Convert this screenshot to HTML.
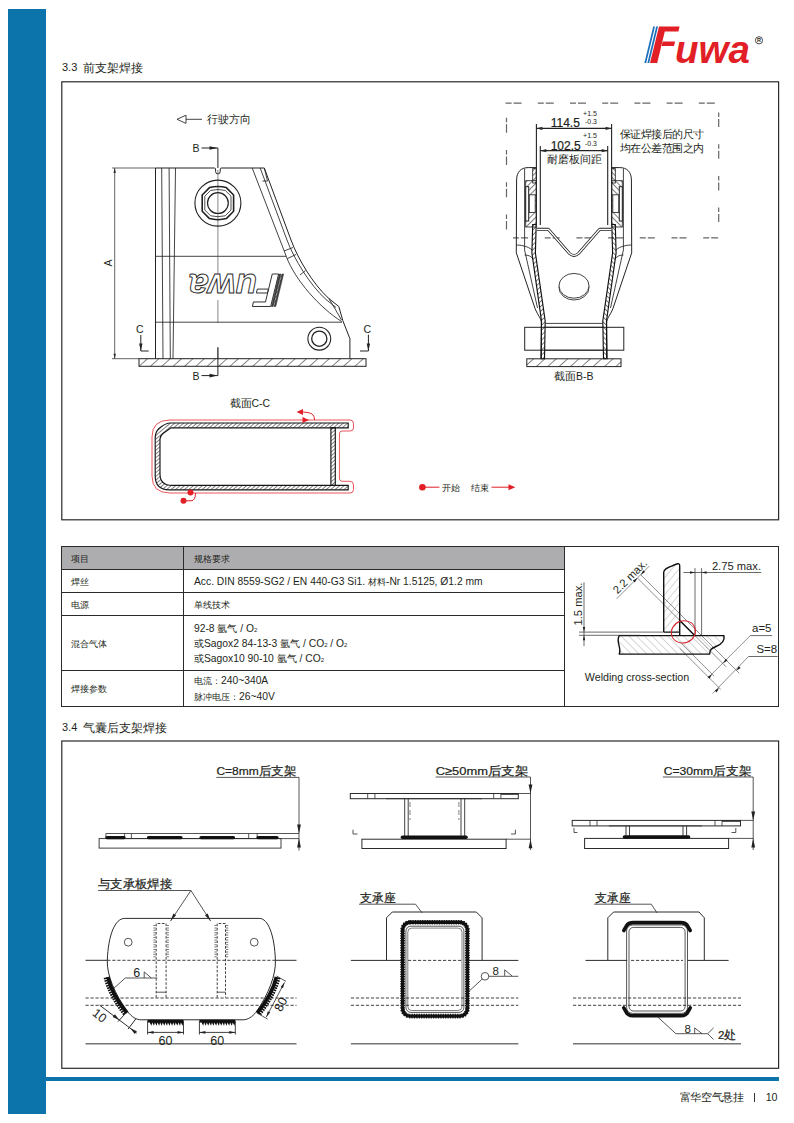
<!DOCTYPE html>
<html lang="zh">
<head>
<meta charset="utf-8">
<title>3.3</title>
<style>
html,body{margin:0;padding:0;}
body{width:794px;height:1123px;position:relative;overflow:hidden;background:#fff;font-family:"Liberation Sans",sans-serif;color:#231f20;}
.abs{position:absolute;}
#bar{left:8px;top:9px;width:38px;height:1105px;background:#0d73ab;}
#rule{left:46px;top:1077px;width:733px;height:4px;background:#0d73ab;}
.h{font-size:12px;left:62px;white-space:nowrap;color:#231f20;}
.hn{font-size:11px;}
.box{border:1px solid #333;box-sizing:border-box;}
#tbl{left:61px;top:546px;width:718px;height:161px;border-collapse:collapse;}
table{border-collapse:collapse;font-size:9.3px;}
.la{font-size:10.3px;}
td{border:1px solid #2a2a2a;padding:0 0 0 9.4px;vertical-align:middle;line-height:15px;}
td.s{padding-top:2px;}
td.c2{padding-left:9.6px;}
tr.hd td{background:#adadaf;}
.ft{top:1091px;font-size:10.7px;white-space:nowrap;line-height:13px;letter-spacing:-0.3px;}
svg{position:absolute;left:0;top:0;}
.sb{font-size:6px;line-height:0;}
svg .md text{stroke:#231f20;stroke-width:0.22px;}
svg text{font-family:"Liberation Sans",sans-serif;fill:#231f20;}
</style>
</head>
<body>
<div id="bar" class="abs"></div>
<div id="rule" class="abs"></div>
<div class="abs h" style="top:60.2px;"><span class="hn">3.3</span><span class="abs" style="left:21.2px;top:0">前支架焊接</span></div>

<table id="tbl" class="abs">
<tr class="hd" style="height:23px;"><td class="s" style="width:112px;">项目</td><td class="s c2" style="width:370.4px;">规格要求</td><td rowspan="5" style="background:#fff;padding:0;"></td></tr>
<tr style="height:23px;"><td class="s">焊丝</td><td class="s c2"><span class="la">Acc. DIN 8559-SG2 / EN 440-G3 Si1. </span>材料<span class="la">-Nr 1.5125, Ø1.2 mm</span></td></tr>
<tr style="height:23px;"><td class="s">电源</td><td class="s c2">单线技术</td></tr>
<tr style="height:54px;"><td class="s">混合气体</td><td class="c2" style="font-size:10px;"><span class="la">92-8 </span>氩气<span class="la"> / O</span><span class="sb">2</span><br>或<span class="la">Sagox2 84-13-3 </span>氩气<span class="la"> / CO</span><span class="sb">2</span><span class="la"> / O</span><span class="sb">2</span><br>或<span class="la">Sagox10 90-10 </span>氩气<span class="la"> / CO</span><span class="sb">2</span></td></tr>
<tr style="height:36px;"><td class="s">焊接参数</td><td class="c2" style="line-height:16px;padding-top:1px;">电流：<span class="la">240~340A</span><br>脉冲电压：<span class="la">26~40V</span></td></tr>
</table>
<div class="abs h" style="top:719.5px;"><span class="hn">3.4</span><span class="abs" style="left:21.2px;top:0">气囊后支架焊接</span></div>

<div class="abs ft" style="left:679.6px;">富华空气悬挂</div><div class="abs" style="left:754px;top:1092.5px;width:1px;height:9.5px;background:#333;"></div><div class="abs ft" style="left:765.8px;">10</div>
<svg id="art" width="794" height="1123" viewBox="0 0 794 1123">
<rect x="61.8" y="81.8" width="716.8" height="438" fill="none" stroke="#2a2a2a" stroke-width="1.2"/>
<rect x="61.8" y="741" width="716.8" height="327.3" fill="none" stroke="#2a2a2a" stroke-width="1.2"/>
<defs>
<pattern id="hat" width="7.6" height="7.6" patternUnits="userSpaceOnUse" patternTransform="rotate(48)"><line x1="0" y1="0" x2="0" y2="7.6" stroke="#222" stroke-width="1.1"/></pattern>
<pattern id="hat2" width="2.6" height="2.6" patternUnits="userSpaceOnUse" patternTransform="rotate(40)"><line x1="0" y1="0" x2="0" y2="2.6" stroke="#222" stroke-width="0.9"/></pattern>
<pattern id="hatg2" width="5.5" height="5.5" patternUnits="userSpaceOnUse" patternTransform="rotate(40)"><line x1="0" y1="0" x2="0" y2="5.5" stroke="#8a8a8a" stroke-width="0.7"/></pattern>
<pattern id="hatg" width="5.5" height="5.5" patternUnits="userSpaceOnUse" patternTransform="rotate(-45)"><line x1="0" y1="0" x2="0" y2="5.5" stroke="#8a8a8a" stroke-width="0.7"/></pattern>
<g id="lgF"><polygon points="5.6,0 12.8,0 20.4,-31.5 34,-31.5 35.2,-36.6 14.6,-36.6"/><polygon points="17.2,-17 29.6,-17 30.7,-21.4 18.3,-21.4"/></g>
<g id="lgS"><polygon points="0,0 1.8,0 10.6,-36.6 8.8,-36.6"/><polygon points="3,0 4.8,0 13.6,-36.6 11.8,-36.6"/></g>
</defs>
<g transform="translate(644.4,63)">
<use href="#lgS" fill="#1d6fb8"/><use href="#lgF" fill="#e21f26"/>
<text x="30.5" y="0" font-size="39" font-weight="bold" font-style="italic" textLength="75" lengthAdjust="spacingAndGlyphs" style="fill:#e21f26">uwa</text>
<circle cx="114.6" cy="-22.7" r="3.6" fill="none" stroke="#231f20" stroke-width="0.8"/>
<text x="112.6" y="-20.6" font-size="5.5" font-weight="bold">R</text>
</g>

<g id="f1" fill="none" stroke="#222" stroke-width="0.85">
<!-- direction arrow -->
<polygon points="177,119.3 186,115.2 186,123.4" fill="#fff"/>
<line x1="186" y1="119.3" x2="202" y2="119.3"/>
<!-- outline -->
<path d="M155.5,358.7 L155.5,168 L214.9,168 Q215.6,168.3 215.6,170 L215.6,171.6 A2.3,2.3 0 0 0 220.2,171.6 L220.2,170 Q220.2,168.3 220.9,168 L264.3,168 L291,240 C298,259 313,284 328.7,298.4 L338.8,306.5 L342.8,320.6 L349.9,338.7 L349.9,358.7" stroke-width="1"/>
<path d="M260.2,168 L287,240 C294,259 310,285 326,299.5 L336,307.5"/>
<path d="M252.2,168 L286.4,256.7 C295,280 320,308 341.8,321.6"/>
<path d="M264.3,168 L267.5,181 M262.5,181 L267.5,181 M284,251 L293,247.5 M287.5,258.5 L296,254.5 M300,275 L305.5,270.5 M328.7,298.4 L332.5,304.5 L341.5,320"/>
<line x1="161.7" y1="168" x2="163" y2="358.7"/><line x1="169.1" y1="168" x2="170.3" y2="358.7"/><line x1="175.5" y1="168" x2="173" y2="358.7"/>
<line x1="155.5" y1="256.3" x2="286.4" y2="256.3"/>
<line x1="155.5" y1="322.2" x2="342" y2="322.2"/>
<!-- centerline -->
<path d="M217.9,170 V292 M217.9,300 V323 M217.9,347 V359" stroke="#555" stroke-width="0.7"/>
<!-- nut -->
<circle cx="217.9" cy="203.1" r="23" stroke-width="1.1"/>
<path d="M209.5,187.6 Q217.9,185.4 226.3,187.6 L233.6,195 L233.6,211.2 L226.3,218.6 Q217.9,220.8 209.5,218.6 L202.2,211.2 L202.2,195 Z" stroke-width="1.6" stroke-linejoin="round"/>
<path d="M210.6,190.4 Q217.9,188.6 225.2,190.4 L231,196.2 L231,210 L225.2,215.8 Q217.9,217.6 210.6,215.8 L204.8,210 L204.8,196.2 Z" stroke-width="0.8" stroke-linejoin="round"/>
<circle cx="217.9" cy="203.1" r="10.4" stroke-width="1.2"/>
<!-- small bush -->
<circle cx="319.3" cy="338.7" r="11.4" stroke-width="1.1"/><circle cx="319.3" cy="338.7" r="7.6" stroke-width="1.3"/>
<!-- ground -->
<rect x="139" y="358.7" width="227" height="7.6" fill="url(#hat)" stroke-width="1"/>
<!-- dim A -->
<line x1="114.7" y1="168" x2="114.7" y2="358.7" stroke-width="0.7"/>
<line x1="112" y1="168" x2="155.5" y2="168" stroke-width="0.7"/><line x1="112" y1="358.7" x2="139" y2="358.7" stroke-width="0.7"/>
<path d="M114.7,168 l-1.2,5 h2.4z M114.7,358.7 l-1.2,-5 h2.4z" fill="#2b2b2b" stroke="none"/>
<!-- B markers -->
<path d="M201.5,148 H217.9 V168 M201.5,375.6 H217.9 V347.5" stroke-width="1"/>
<path d="M217.5,148 l-8,-1.8 v3.6z M217.5,375.6 l-8,-1.8 v3.6z" fill="#222" stroke="none"/>
<!-- C markers -->
<path d="M140.8,335 V351 H148.7 M368.4,334.7 V351 H360" stroke-width="1"/>
<path d="M140.8,351 l-1.7,-7.5 h3.4z M368.4,351 l-1.7,-7.5 h3.4z" fill="#222" stroke="none"/>
<!-- rotated logo outline -->
<g transform="translate(283.6,274) scale(-0.8875)" stroke="#2b2b2b" stroke-width="1.1" fill="#fff">
<use href="#lgS" fill="#444" stroke-width="0.6"/><polygon points="1,0 6,0 14.5,-36.6 9.5,-36.6" fill="url(#hat2)" stroke="none"/><use href="#lgF"/>
<text x="30" y="0" font-size="40" font-weight="bold" font-style="italic" textLength="77" lengthAdjust="spacingAndGlyphs" style="fill:#fff">uwa</text>
</g>
</g>
<g font-size="10.5">
<text x="206.5" y="123">行驶方向</text>
<text x="192.4" y="152">B</text><text x="192.4" y="379.6">B</text>
<text x="136" y="333">C</text><text x="363.6" y="333">C</text>
<text transform="translate(112,266.5) rotate(-90)">A</text>
</g>

<defs>
<pattern id="hat3" width="2.85" height="2.85" patternUnits="userSpaceOnUse" patternTransform="rotate(50)"><line x1="0" y1="0" x2="0" y2="2.85" stroke="#111" stroke-width="1.05"/></pattern>
<pattern id="hat6" width="3.5" height="3.5" patternUnits="userSpaceOnUse" patternTransform="rotate(45)"><line x1="0" y1="0" x2="0" y2="3.5" stroke="#111" stroke-width="1.1"/></pattern>
<pattern id="hat4" width="4" height="4" patternUnits="userSpaceOnUse" patternTransform="rotate(45)"><line x1="0" y1="0" x2="0" y2="4" stroke="#111" stroke-width="1.1"/></pattern>
<g id="bbh"><path d="M536.7,167.6 L528.2,167.6 C521,167.6 516.6,172 516.6,180 L516.3,252.8 L535,308.4 C538,316 541.4,318 541.4,323.4 L541.4,358.7" stroke-width="1"/>
<path d="M524.6,168.6 V250 L537.5,308"/>
<path d="M516.5,245 C520,245 528,246 532,250 M524.6,255 C528,255 531,256 533,259"/>
<polygon points="532.7,224.5 531.9,253 541.5,321 540.9,358.7 544.5,358.7 545.2,321 535.4,253 536.2,224.5" fill="url(#hat6)" stroke-width="1.15" stroke="#111"/>
<rect x="532.7" y="168.6" width="3.5" height="14.4" fill="url(#hat6)"/>
<rect x="525.7" y="180.7" width="10.5" height="46.3" fill="url(#hat4)"/>
<rect x="529.2" y="194.8" width="6" height="17.6" fill="#fff"/>
<rect x="525.7" y="186.7" width="3" height="34.3" fill="#fff" stroke-width="1"/>
<line x1="536.4" y1="124" x2="536.4" y2="225" stroke-width="1.1"/><line x1="540.3" y1="146" x2="540.3" y2="225" stroke-width="1.1"/>
</g>
</defs>
<g id="f2" fill="none" stroke="#222" stroke-width="0.85">
<g stroke="#666" stroke-width="1.2"><path d="M505.6,103.1 H718" stroke-dasharray="6 2 8 16.2"/><path d="M718.7,112.5 V225" stroke-dasharray="4.5 2 8 17.2"/><path d="M506.5,117.7 V231" stroke-dasharray="4.5 2 8.5 17.3"/><path d="M513,237.9 H719.2" stroke-dasharray="6 2 7 16.7"/></g>
<rect x="524.7" y="327.3" width="99.1" height="22.9" stroke-width="1"/>
<use href="#bbh"/><use href="#bbh" transform="translate(1148,0) scale(-1,1)"/>
<path d="M545.5,323.4 H602.5 M545.5,327.3 H602.5 M545,350.2 H603"/>
<path d="M536.7,229.3 H548.3 L569.5,253.5 Q574,257.3 578.5,253.5 L599.7,229.3 H611.3" stroke-width="2.9" stroke-linejoin="round"/>
<path d="M536.7,229.3 H548.3 L569.5,253.5 Q574,257.3 578.5,253.5 L599.7,229.3 H611.3" stroke="#fff" stroke-width="1.3" stroke-linejoin="round"/>
<ellipse cx="574" cy="287.6" rx="15" ry="12.4"/><ellipse cx="574" cy="285.8" rx="15" ry="12.4" fill="#fff"/>
<rect x="526.8" y="358.8" width="94.2" height="7.8" fill="url(#hat)" stroke-width="1"/>
<path d="M536.4,128.4 H611.6 M540.3,150.7 H607.7" stroke-width="1.2"/>
<path d="M536.4,128.4 l6,-1.6 v3.2z M611.6,128.4 l-6,-1.6 v3.2z M540.3,150.7 l6,-1.6 v3.2z M607.7,150.7 l-6,-1.6 v3.2z" fill="#2b2b2b" stroke="none"/>
</g>
<g font-size="12" class="md"><text x="550.7" y="127.4">114.5</text><text x="550.7" y="149.6">102.5</text></g>
<g font-size="8"><text x="583" y="115.8" textLength="14" lengthAdjust="spacingAndGlyphs">+1.5</text><text x="585" y="124.4" textLength="12" lengthAdjust="spacingAndGlyphs">-0.3</text><text x="583" y="138" textLength="14" lengthAdjust="spacingAndGlyphs">+1.5</text><text x="585" y="146.3" textLength="12" lengthAdjust="spacingAndGlyphs">-0.3</text></g>
<g font-size="10.5"><text x="547" y="162.6" font-size="10.8">耐磨板间距</text><text x="620" y="138" textLength="84" lengthAdjust="spacing">保证焊接后的尺寸</text><text x="620" y="151.6" textLength="84" lengthAdjust="spacing">均在公差范围之内</text><text x="554" y="380">截面B-B</text><text x="229.5" y="407">截面C-C</text></g>

<g id="f3" fill="none" stroke="#151515" stroke-width="1.15">
<path d="M348.2,423 H171 Q165,423 159,428.5 Q155.2,432 155.2,438 V476 Q155.2,489.8 169.4,489.8 H348.2 V485.4 H172 Q160,485.4 160,474 V439 Q160,436 163,433.5 L171,427.8 H348.2 Z" fill="url(#hat3)"/>
<rect x="330.9" y="427.8" width="4.4" height="57.6" fill="url(#hat3)"/>
<path d="M190.5,493 H170 Q152,493 152,476 V437 Q152,420 170,420 H350 Q353.5,420 353.5,423.5 V428 Q353.5,431 350,431 H342 Q339.4,431 339.4,434 V478 Q339.4,481.3 342,481.3 H350 Q353.5,481.3 353.5,485 V489.5 Q353.5,493 350,493 H190.5" stroke="#e21f26" stroke-width="0.75"/>
<path d="M314.5,420 C314.5,414 311,412 300,412 M183.5,500.8 H191 Q195.5,500.8 195.5,493" stroke="#e21f26" stroke-width="1"/>
<path d="M296.5,412 l6.5,-3 v6z M309,420 l-6.5,-3 v6z M515.3,487.2 l-6.8,-3 v6z" fill="#e21f26" stroke="none"/>
<circle cx="190.5" cy="492.5" r="3" fill="#e21f26" stroke="none"/><circle cx="183.5" cy="500.8" r="3" fill="#e21f26" stroke="none"/>
<circle cx="422.4" cy="487.2" r="3.3" fill="#e21f26" stroke="none"/>
<path d="M425,487.2 H439.4 M491.5,487.2 H509.5" stroke="#e21f26" stroke-width="1"/>
</g>
<g font-size="9"><text x="442.3" y="490.6">开始</text><text x="471.1" y="490.6">结束</text></g>

<g id="wd" fill="none" stroke="#2b2b2b" stroke-width="0.7">
<path d="M663.7,632.1 V572.5 C663.7,569 668,567.5 673,565.5 C677,563.5 679.7,562.5 679.7,566 V632.1 Z" fill="url(#hatg2)" stroke="none"/>
<path d="M619.2,635.6 H724 C725,641 722,644 716,646.5 C711,648.5 709.7,650 709.7,654.1 H619.2 C622,648 615.5,642 619.2,635.6Z" fill="url(#hatg)" stroke="none"/>
<path d="M640.7,574.7 L739.3,673.3 M637.4,578.0 L726.2,666.8 M679.7,641.8 L714.1,676.2 M679.7,648.4 L720.7,689.3 M616.6,598.8 L649.4,566.0 M750.3,635.6 L707.5,678.4 M748.5,656.5 L712.6,693.5 " stroke="#444" stroke-width="0.6"/>
<path d="M723.1,663.3 L727.5,660.6 L725.7,658.8Z M712.1,674.2 L707.7,676.8 L709.5,678.7Z M736.2,670.7 L740.7,668.1 L738.8,666.3Z M719.2,687.9 L714.8,690.5 L716.6,692.4Z M637.4,578.0 L632.9,580.6 L634.8,582.5Z M640.7,574.7 L645.1,572.1 L643.3,570.3Z " fill="#222" stroke="none"/>
<path d="M663.7,632.1 V572.5 C663.7,569 668,567.5 673,565.5 C677,563.5 679.7,562.5 679.7,566 V635.6 M663.7,632.1 H679.7 M679.7,620.6 L694.7,635.6" stroke="#111" stroke-width="1.4" stroke-linejoin="round"/>
<path d="M619.2,635.6 H724 C725,641 722,644 716,646.5 C711,648.5 709.7,650 709.7,654.1 H619.2 C622,648 615.5,642 619.2,635.6Z" stroke="#111" stroke-width="1.4" stroke-linejoin="round"/>
<path d="M683.4,572.5 H761.2 M695,568.1 V635 M701.6,568.1 V635 M584,582.4 V646.1 M579,632.1 H663.7 M579,635.3 H640"/>
<path d="M695,572.5 l-5,-1.2 v2.4z M701.6,572.5 l5,-1.2 v2.4z M584,632.1 l-1.2,-5 h2.4z M584,635.3 l-1.2,5 h2.4z" fill="#222" stroke="none"/>
<path d="M750.3,635.6 H772.2 M748.5,656.5 H777.7"/>
<ellipse cx="683.4" cy="631.9" rx="12.2" ry="11" stroke="#d8232a" stroke-width="1" transform="rotate(-20 683.4 631.9)"/>
</g>
<g font-size="11.2" style="fill:#333"><text x="711.9" y="569.9">2.75 max.</text><text x="752" y="632.3" font-size="11.5">a=5</text><text x="756.4" y="653.2" font-size="11.5">S=8</text>
<text transform="translate(582,625.5) rotate(-90)">1.5 max.</text><text transform="translate(617.5,594.5) rotate(-45)">2.2 max.</text>
<text x="584.8" y="681" font-size="10.7">Welding cross-section</text></g>

<defs>
<pattern id="ser" width="2.4" height="4" patternUnits="userSpaceOnUse"><path d="M0,0 H2.4 V2 L1.2,4 L0,2Z" fill="#111"/></pattern>
</defs>
<g id="f4a" fill="none" stroke="#2b2b2b" stroke-width="0.8">
<!-- (a) C=8 -->
<path d="M216.4,777.4 H299 V850.5"/>
<path d="M299,833.5 l-1.9,-9 h3.8z M299,838.6 l-1.9,9 h3.8z" fill="#222" stroke="none"/>
<path d="M105.9,833.5 H299 M105.9,838.6 H299 M105.9,833.5 V838.6 M124.6,833.5 V838.6 M131.4,833.5 V838.6 M248.7,833.5 V838.6 M257.2,833.5 V838.6"/>
<rect x="99.1" y="838.6" width="181.9" height="9.5" stroke-width="0.9"/>
<path d="M107,837.6 H124 M148.5,837.6 H181 M201,837.6 H233.5 M258,837.6 H277" stroke="#111" stroke-width="3.2" stroke-linecap="round"/>
<!-- (b) C>=50 -->
<path d="M435.7,777 H530.5 V850 M518.3,793.5 H530.5 M506.1,839.2 H530.5"/>
<path d="M530.5,793.5 l-1.9,-9 h3.8z M530.5,839.2 l-1.9,9 h3.8z" fill="#222" stroke="none"/>
<rect x="350.3" y="793.5" width="168" height="5.2" stroke-width="1"/>
<path d="M367.7,793.5 V798.7 M374.9,793.5 V798.7 M493.7,793.5 V798.7 M500.9,793.5 V798.7 M386,798.7 H482" />
<path d="M500.9,794 H518" stroke-width="1.6"/>
<path d="M404.7,798.7 V837 M408.2,798.7 V837 M461,798.7 V837 M464.7,798.7 V837" stroke-width="0.9"/>
<path d="M410,802 V820 M458.9,802 V820" stroke-dasharray="5 3" stroke-width="0.6"/>
<rect x="361.9" y="839.2" width="144.2" height="9.3" stroke-width="1"/>
<path d="M402.5,837.2 H466" stroke="#111" stroke-width="3.6" stroke-linecap="round"/>
<path d="M353,829.7 V834 H357.5 M515.4,829.7 V834 H511"/>
<!-- (c) C=30 -->
<path d="M662.8,777 H753.2 V850 M740.5,820.4 H753.2 M728.6,838.4 H753.2"/>
<path d="M753.2,820.4 l-1.9,-9 h3.8z M753.2,838.4 l-1.9,9 h3.8z" fill="#222" stroke="none"/>
<rect x="572.2" y="820.4" width="168.3" height="5.5" stroke-width="1"/>
<path d="M590,820.4 V825.9 M597,820.4 V825.9 M715,820.4 V825.9 M722,820.4 V825.9 M609,825.9 H702"/>
<path d="M722,821 H740" stroke-width="1.6"/>
<path d="M626,825.9 V837 M629.5,825.9 V837 M683,825.9 V837 M686.6,825.9 V837" stroke-width="0.9"/>
<rect x="584.6" y="838.4" width="144" height="10.1" stroke-width="1"/>
<path d="M624.5,837 H688.5" stroke="#111" stroke-width="3.6" stroke-linecap="round"/>
<path d="M574,828 V832.5 H577.4 M735.8,828 V832.5 H731.5"/>
</g>
<g id="f4d" fill="none" stroke="#2b2b2b" stroke-width="0.8">
<!-- (d) plate -->
<path d="M98.1,890.5 H190.9 L170.5,921.1 M190.9,890.5 L210.6,921.1"/>
<path d="M170.5,921.1 l2.9,-7.6 l2.7,1.8z M210.6,921.1 l-2.9,-7.6 l-2.7,1.8z" fill="#222" stroke="none"/>
<path d="M124.7,918.4 H259.5 C268,918.4 274.6,935 275.4,960.5 C276,975 268.6,993.7 256.5,1011.8 C252,1017 248,1019.8 242.9,1019.8 H141.3 C136,1019.8 132,1017 127.7,1011.8 C114.6,993.7 106.8,975 107.3,960.5 C108.2,935 115,918.4 124.7,918.4Z" stroke-width="1"/>
<circle cx="128.2" cy="942.2" r="3.9"/><circle cx="254.2" cy="942.2" r="3.9"/>
<path d="M85.5,960.3 H107.3 M275.4,960.3 H296.5" stroke-width="1"/>
<path d="M107.3,960.3 H275.4 M85.5,998 H296.5 M85.5,1005.3 H296.5" stroke-dasharray="3.2 1.8" stroke-width="0.9"/>
<path d="M156.2,997.6 V923.5 H166.1 V997.6 M217.2,997.6 V923.5 H225.5 V997.6" stroke-dasharray="2.6 1.6" stroke-width="0.9"/>
<path d="M156.2,992.2 H166.1 M217.2,992.2 H225.5" stroke-width="0.8"/>
<path d="M154.6,925 V958 M167.7,925 V958 M215.6,925 V958 M227.1,925 V958" stroke="#777" stroke-width="2.4" stroke-dasharray="1 1.4"/>
<path d="M85.5,1043.7 H296.5" stroke="#777" stroke-width="1.5"/>
<!-- bottom welds -->
<path d="M147.6,1019.8 H183.5 V1022.6 L182.60,1025.8 L180.90,1022.6 L180.00,1025.8 L178.30,1022.6 L177.40,1025.8 L175.70,1022.6 L174.80,1025.8 L173.10,1022.6 L172.20,1025.8 L170.50,1022.6 L169.60,1025.8 L167.90,1022.6 L167.00,1025.8 L165.30,1022.6 L164.40,1025.8 L162.70,1022.6 L161.80,1025.8 L160.10,1022.6 L159.20,1025.8 L157.50,1022.6 L156.60,1025.8 L154.90,1022.6 L154.00,1025.8 L152.30,1022.6 L151.40,1025.8 L149.70,1022.6 L147.6,1022.6Z M199.4,1019.8 H235.3 V1022.6 L234.40,1025.8 L232.70,1022.6 L231.80,1025.8 L230.10,1022.6 L229.20,1025.8 L227.50,1022.6 L226.60,1025.8 L224.90,1022.6 L224.00,1025.8 L222.30,1022.6 L221.40,1025.8 L219.70,1022.6 L218.80,1025.8 L217.10,1022.6 L216.20,1025.8 L214.50,1022.6 L213.60,1025.8 L211.90,1022.6 L211.00,1025.8 L209.30,1022.6 L208.40,1025.8 L206.70,1022.6 L205.80,1025.8 L204.10,1022.6 L203.20,1025.8 L201.50,1022.6 L199.4,1022.6Z" fill="#111" stroke="none"/>
<path d="M147.6,1021 V1034.5 M183.5,1021 V1034.5 M147.6,1032.4 H183.5 M199.4,1021 V1034.5 M235.3,1021 V1034.5 M199.4,1032.4 H235.3" stroke-width="0.9"/>
<path d="M147.6,1032.4 l6,-1.4 v2.8z M183.5,1032.4 l-6,-1.4 v2.8z M199.4,1032.4 l6,-1.4 v2.8z M235.3,1032.4 l-6,-1.4 v2.8z" fill="#222" stroke="none"/>
<!-- side welds -->
<path d="M107.8,977 C111,990 118,1002 127,1013" stroke="#111" stroke-width="3.6"/>
<path d="M105.4,977.6 C108.6,990.6 115.6,1002.6 124.8,1014.4" stroke="#111" stroke-width="3.6" stroke-dasharray="1.6 0.9"/>
<path d="M276.4,977 C273.2,990 266.2,1002 257.2,1013" stroke="#111" stroke-width="3.6"/>
<path d="M278.8,977.6 C275.6,990.6 268.6,1002.6 259.4,1014.4" stroke="#111" stroke-width="3.6" stroke-dasharray="1.6 0.9"/>
<!-- 6 symbol -->
<path d="M157.4,978 H125.3 L111,990.8 M144.2,978 V971.9 L151.3,978"/>
<!-- 10 dim -->
<path d="M99.6,1005.2 L136.7,1033.1 M126.1,1012.7 L118,1021.6 M135.9,1018.8 L128,1029.2" stroke-width="1"/>
<path d="M119.3,1020 l-6.6,-3 l2.2,-2.8z M130.3,1028.3 l6.6,3 l-2.2,2.8z" fill="#222" stroke="none"/>
<!-- 80 dim -->
<path d="M276.5,976 L286,981.4 M257,1013 L267.5,1019 M284.5,982.4 L266.3,1017.1"/>
<path d="M284.5,982.4 l-1.5,5.8 l-2.4,-1.3z M266.3,1017.1 l1.5,-5.8 l2.4,1.3z" fill="#222" stroke="none"/>
</g>
<g id="f4e" fill="none" stroke="#2b2b2b" stroke-width="0.8">
<!-- (e) -->
<path d="M359,904.2 H415.5 L422.1,912.9"/>
<path d="M386.5,960.4 V917.8 L392.3,912 H476.3 L482.1,917.8 V960.4 M350.9,960.4 H401 M469,960.4 H518.3" stroke-width="1"/>
<rect x="402.6" y="922.3" width="64.8" height="93.8" rx="7.5" stroke="#111" stroke-width="3.4"/><rect x="402.6" y="922.3" width="64.8" height="93.8" rx="7.5" stroke="#111" stroke-width="4.6" stroke-dasharray="1.2 1.2"/>
<rect x="405.9" y="926.2" width="58" height="86.2" rx="5"/><rect x="407.8" y="928.1" width="54.2" height="82.4" rx="4" stroke-width="0.6"/>
<path d="M408,960.4 H462 M350.9,998 H518.3 M350.9,1005.3 H518.3" stroke-dasharray="3.2 1.8" stroke-width="0.9"/>
<path d="M350.9,1043.8 H518.3" stroke="#777" stroke-width="1.5"/>
<circle cx="485" cy="976.3" r="3.8"/><path d="M468.5,991.7 L482.3,979 M488.8,976.3 H518.3 M504.7,975.9 V969.8 L512,975.9"/>
<!-- (f) -->
<path d="M594.2,904.2 H651.3 L657,912.9"/>
<path d="M607.8,960.4 V917.8 L613.6,912 H699 L704.3,917.8 V960.4 M585.5,960.4 H627.2 M687.5,960.4 H728.6" stroke-width="1"/>
<rect x="626.6" y="925" width="60.9" height="88.4" rx="6"/><rect x="629" y="927.4" width="56.1" height="83.6" rx="4.5"/>
<path d="M623.8,930.5 L627,925 Q629,922.6 633,922.6 H681 Q685,922.6 687,925 L690.2,930.5 M623.8,1007.9 L627,1013.4 Q629,1015.8 633,1015.8 H681 Q685,1015.8 687,1013.4 L690.2,1007.9" stroke="#111" stroke-width="3.6" stroke-linecap="round"/>
<path d="M631,960.4 H683 M573,998 H741 M573,1005.3 H741" stroke-dasharray="3.2 1.8" stroke-width="0.9"/>
<path d="M573,1043.8 H741" stroke="#777" stroke-width="1.5"/>
<path d="M657,1016.3 L675.9,1033.7 H707.7 M713.5,1027.9 L707.7,1033.7 L713.5,1039.5 M694.7,1033.7 V1027.9 L702,1033.7"/>
</g>
<g font-size="11.5" class="md"><text x="216.4" y="775" textLength="79.9" lengthAdjust="spacingAndGlyphs">C=8mm后支架</text><text x="435.7" y="775" textLength="92.7" lengthAdjust="spacingAndGlyphs">C≥50mm后支架</text><text x="663.7" y="775" textLength="87.5" lengthAdjust="spacingAndGlyphs">C=30mm后支架</text><text x="717.9" y="1039">2处</text></g>
<g font-size="12" class="md"><text x="98.1" y="888" textLength="74" lengthAdjust="spacingAndGlyphs">与支承板焊接</text><text x="360.4" y="901.5" textLength="35.6" lengthAdjust="spacingAndGlyphs">支承座</text><text x="595.3" y="901.5" textLength="35.2" lengthAdjust="spacingAndGlyphs">支承座</text></g>
<g font-size="12.5"><text x="165.5" y="1044.5" text-anchor="middle">60</text><text x="217.3" y="1044.5" text-anchor="middle">60</text><text x="133.3" y="976.5">6</text>
<text transform="translate(99.6,1015.5) rotate(38)" text-anchor="middle" dy="4.3">10</text><text transform="translate(280.6,1004.3) rotate(-62)" text-anchor="middle" dy="4.3">80</text>
<text x="492.5" y="975" font-size="11.5">8</text><text x="684.5" y="1032.5" font-size="11.5">8</text></g>

</svg>
</body>
</html>
